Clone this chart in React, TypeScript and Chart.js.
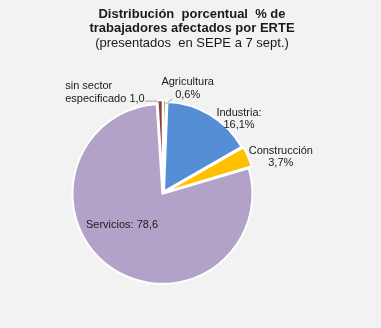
import React, { useEffect, useRef } from "react";
import { Chart, registerables } from "chart.js";
Chart.register(...registerables);

const categories = ["Agricultura", "Industria", "Construcción", "Servicios", "sin sector especificado"];
const values = [0.6, 16.1, 3.7, 78.6, 1.0];
const labelLines = [
  ["Agricultura", "0,6%"],
  ["Industria:", "16,1%"],
  ["Construcción", "3,7%"],
  ["Servicios: 78,6"],
  ["sin sector", "especificado 1,0"],
];
const colors = ["#77933C", "#558ED5", "#FFC000", "#B3A2C7", "#953735"];
const titleLines = ["Distribución  porcentual  % de", "trabajadores afectados por ERTE", "(presentados  en SEPE a 7 sept.)"];

// label placement relative to the arc's outer mid point
const labelPlacement = [
  { dx: 23, dy: -22, align: "center", leader: [[8, -5], [1, 0]] },
  { dx: 30, dy: -4, align: "center", leader: null },
  { dx: 36, dy: -7, align: "center", leader: null },
  { dx: 10, dy: -41, align: "center", leader: null },
  { dx: -95, dy: -18, align: "left", leader: [[-15, -3], [-3, -3], [-1, 0]] },
];

const FONT = '"Liberation Sans", Arial, sans-serif';

const textPlugin = {
  id: "texts",
  afterDraw(chart: any) {
    const ctx = chart.ctx;
    ctx.save();
    ctx.fillStyle = "#1a1a1a";
    ctx.textAlign = "center";
    ctx.textBaseline = "alphabetic";
    const cx = 192;
    const bases = [17.5, 32, 46.5];
    titleLines.forEach((t, i) => {
      ctx.font = (i < 2 ? "bold " : "") + "13px " + FONT;
      ctx.fillText(t, cx, bases[i]);
    });
    const meta = chart.getDatasetMeta(0);
    ctx.font = "11px " + FONT;
    ctx.textBaseline = "middle";
    meta.data.forEach((arc: any, i: number) => {
      const { x, y, startAngle, endAngle, outerRadius } = arc.getProps(["x", "y", "startAngle", "endAngle", "outerRadius"], true);
      const mid = (startAngle + endAngle) / 2;
      const ax = x + Math.cos(mid) * outerRadius;
      const ay = y + Math.sin(mid) * outerRadius;
      const p = labelPlacement[i];
      ctx.textAlign = p.align;
      labelLines[i].forEach((t, j) => {
        ctx.fillText(t, ax + p.dx, ay + p.dy + j * 12.5);
      });
      if (p.leader) {
        ctx.strokeStyle = "#A6A6A6";
        ctx.lineWidth = 1;
        ctx.beginPath();
        p.leader.forEach((pt: number[], k: number) => {
          const px = ax + pt[0];
          const py = ay + pt[1];
          if (k === 0) ctx.moveTo(px, py);
          else ctx.lineTo(px, py);
        });
        ctx.stroke();
      }
    });
    ctx.restore();
  },
};

export default function App() {
  const ref = useRef<HTMLCanvasElement>(null);
  useEffect(() => {
    if (!ref.current) return;
    const chart = new Chart(ref.current, {
      type: "pie",
      data: {
        labels: categories,
        datasets: [
          {
            data: values,
            backgroundColor: colors,
            borderColor: "#FFFFFF",
            borderWidth: 2,
            offset: [8, 8, 8, 4, 8],
          },
        ],
      },
      options: {
        responsive: false,
        animation: false,
        layout: { padding: { left: 69, right: 124, top: 99, bottom: 41 } },
        plugins: {
          legend: { display: false },
          title: { display: false },
          tooltip: { enabled: false },
        },
      },
      plugins: [textPlugin],
    });
    return () => chart.destroy();
  }, []);
  return (
    <div style={{ position: "fixed", left: 0, top: 0, width: 381, height: 328 }}>
      <canvas ref={ref} width={381} height={328} style={{ background: "#F2F2F2", display: "block" }} />
    </div>
  );
}
